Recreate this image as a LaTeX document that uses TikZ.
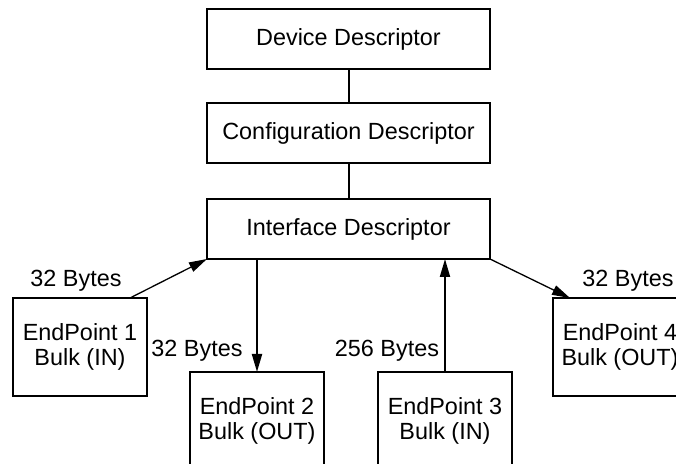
\documentclass[tikz,border=0pt]{standalone}
\usepackage{fontspec}
\setmainfont{Liberation Sans}
\usetikzlibrary{arrows.meta}
\tikzset{
  desc/.style={draw, line width=1pt, inner sep=0pt, outer sep=0pt,
    minimum width=141.5pt, minimum height=30pt, align=center},
  epbox/.style={draw, line width=1pt, inner sep=0pt, outer sep=0pt,
    minimum width=67pt, minimum height=49pt, align=center},
  lbl/.style={inner sep=0pt},
  link/.style={line width=1pt},
  arr/.style={line width=1pt, -{Triangle[length=9pt,width=5pt]}},
  darr/.style={line width=0.65pt, -{Triangle[length=9pt,width=5pt]}}
}
\begin{document}
\begin{tikzpicture}[x=0.5pt,y=-0.5pt,
  every node/.style={font=\fontsize{11.7}{12.8}\selectfont}]
\useasboundingbox (0,0) rectangle (676,464);
\clip (0,0) rectangle (676,464);
\node[desc] (dev) at (348.5,39) {Device Descriptor};
\node[desc] (conf) at (348.5,133.5) {Configuration Descriptor};
\node[desc] (iface) at (348.5,229) {Interface Descriptor};
\node[epbox] (ep1) at (80,347) {EndPoint 1\\Bulk (IN)};
\node[epbox] (ep2) at (257,421) {EndPoint 2\\Bulk (OUT)};
\node[epbox] (ep3) at (445,421) {EndPoint 3\\Bulk (IN)};
\node[epbox] (ep4) at (620,347) {EndPoint 4\\Bulk (OUT)};
\draw[link] (dev) -- (conf);
\draw[link] (conf) -- (iface);
\draw[darr] ([xshift=-8.5pt]ep1.north east) -- (iface.south west);
\draw[darr] (iface.south east) -- ([xshift=8.5pt]ep4.north west);
\draw[arr] (iface.south -| ep2.north) -- (ep2.north);
\draw[arr] (ep3.north) -- (iface.south -| ep3.north);
\node[lbl] (l1) at (76,281) {32 Bytes};
\node[lbl] (l4) at (628,281) {32 Bytes};
\node[lbl] (l2) at (197,351) {32 Bytes};
\node[lbl] (l3) at (387,351) {256 Bytes};
\end{tikzpicture}
\end{document}
